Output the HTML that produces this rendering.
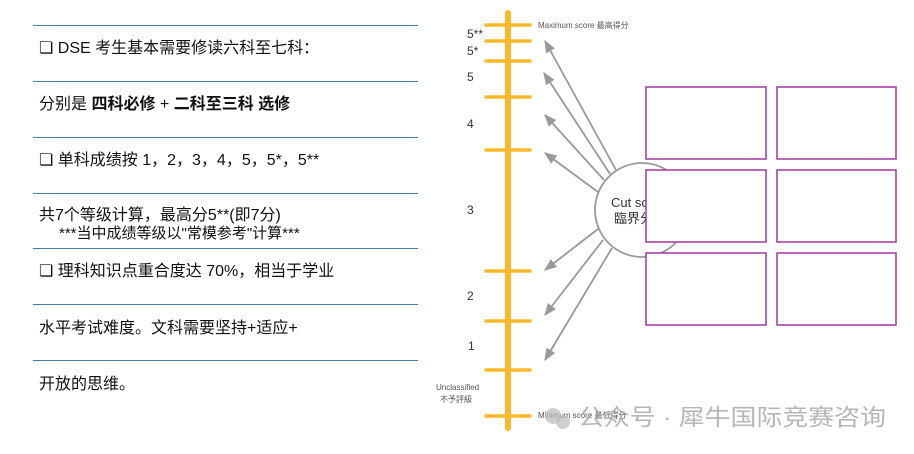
<!DOCTYPE html>
<html><head><meta charset="utf-8"><style>
body{margin:0;width:914px;height:454px;background:#fff;overflow:hidden;position:relative;font-family:"Liberation Sans","Noto Sans CJK SC",sans-serif;}
.hl{position:absolute;left:33px;width:385px;height:0;border-top:1.5px solid #4a7fa5;}
.t{position:absolute;left:39px;font-size:16px;color:#111;white-space:nowrap;}
</style></head><body>
<div class="hl" style="top:25px"></div>
<div class="hl" style="top:81px"></div>
<div class="hl" style="top:137px"></div>
<div class="hl" style="top:193px"></div>
<div class="hl" style="top:248px"></div>
<div class="hl" style="top:304px"></div>
<div class="hl" style="top:360px"></div>
<div class="t" style="top:34px">❏ DSE 考生基本需要修读六科至七科：</div>
<div class="t" style="top:90px">分别是 <b>四科必修</b> + <b>二科至三科 选修</b></div>
<div class="t" style="top:146px">❏ 单科成绩按 1，2，3，4，5，5*，5**</div>
<div class="t" style="top:201px">共7个等级计算，最高分5**(即7分)</div>
<div class="t" style="top:222px;left:59px;font-size:15px">***当中成绩等级以"常模参考"计算***</div>
<div class="t" style="top:257px">❏ 理科知识点重合度达 70%，相当于学业</div>
<div class="t" style="top:314px">水平考试难度。文科需要坚持+适应+</div>
<div class="t" style="top:370px">开放的思维。</div>
<svg width="914" height="454" style="position:absolute;left:0;top:0" font-family="Liberation Sans, Noto Sans CJK SC, sans-serif">
<defs><marker id="a" viewBox="0 0 10 10" refX="9" refY="5" markerWidth="7" markerHeight="7" orient="auto"><path d="M0,1 L10,5 L0,9 z" fill="#999"/></marker></defs>
<line x1="508" y1="13" x2="508" y2="428" stroke="#fbb92a" stroke-width="6" stroke-linecap="round"/>
<g stroke="#fbb92a" stroke-width="3.5" stroke-linecap="round">
<line x1="486" y1="25" x2="530" y2="25"/><line x1="486" y1="41" x2="530" y2="41"/><line x1="486" y1="61" x2="530" y2="61"/>
<line x1="486" y1="97" x2="530" y2="97"/><line x1="486" y1="150" x2="530" y2="150"/><line x1="486" y1="271" x2="530" y2="271"/>
<line x1="486" y1="321" x2="530" y2="321"/><line x1="486" y1="370" x2="530" y2="370"/><line x1="486" y1="416" x2="530" y2="416"/>
</g>
<g fill="#333" font-size="12">
<text x="467" y="38">5**</text><text x="467" y="55">5*</text><text x="467" y="81">5</text>
<text x="467" y="128">4</text><text x="467" y="214">3</text><text x="467" y="300">2</text><text x="468" y="350">1</text>
</g>
<text x="436" y="390" font-size="8" fill="#555">Unclassified</text>
<text x="440" y="402" font-size="8" fill="#555">不予評級</text>
<text x="538" y="28" font-size="8" fill="#555">Maximum score 最高得分</text>
<text x="538" y="418" font-size="8" fill="#555">Minimum score 最低得分</text>
<g stroke="#999" stroke-width="1.8" marker-end="url(#a)">
<line x1="616" y1="170" x2="545" y2="41"/>
<line x1="610" y1="174" x2="544" y2="73"/>
<line x1="604" y1="180" x2="545" y2="115"/>
<line x1="598" y1="192" x2="545" y2="153"/>
<line x1="598" y1="229" x2="545" y2="270"/>
<line x1="603" y1="240" x2="545" y2="315"/>
<line x1="612" y1="248" x2="545" y2="360"/>
</g>
<circle cx="642" cy="210" r="47" fill="#fff" stroke="#999" stroke-width="1.8"/>
<text x="611" y="207" font-size="13" fill="#333">Cut score</text>
<text x="614" y="223" font-size="13" fill="#333">臨界分</text>
<g fill="#fff" stroke="#a0379e" stroke-width="1.5">
<rect x="646" y="87" width="120" height="72"/><rect x="777" y="87" width="119" height="72"/>
<rect x="646" y="170" width="120" height="72"/><rect x="777" y="170" width="119" height="72"/>
<rect x="646" y="253" width="120" height="72"/><rect x="777" y="253" width="119" height="72"/>
</g>
<circle cx="553" cy="416" r="8" fill="#bbb" opacity="0.7"/><circle cx="563" cy="422" r="7" fill="#bbb" opacity="0.7"/>
<text x="578" y="425" font-size="23" fill="#aaa" opacity="0.85" textLength="308" lengthAdjust="spacingAndGlyphs">公众号 · 犀牛国际竞赛咨询</text>
</svg>
</body></html>
